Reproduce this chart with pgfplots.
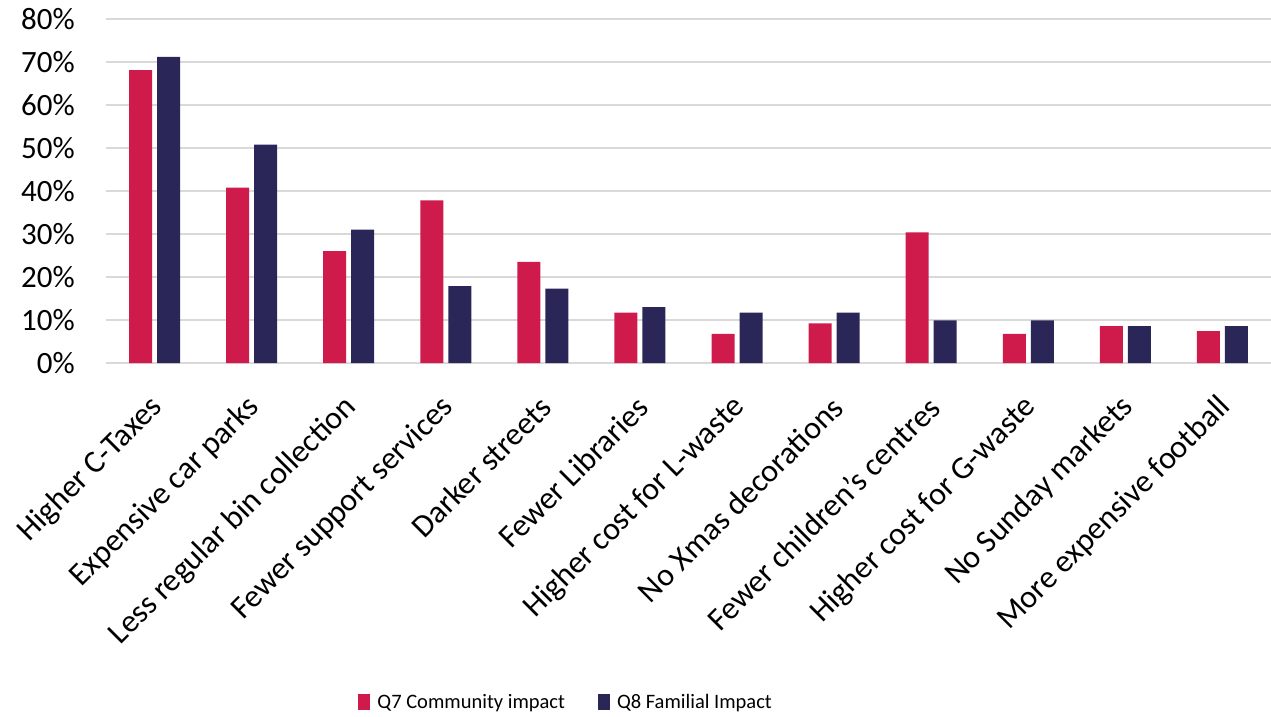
\documentclass[border=0pt]{standalone}
\usepackage{pgfplots}
\pgfplotsset{compat=1.18}
\usepackage{fontspec}
\setmainfont{Carlito}
\definecolor{q7}{HTML}{CE1B4B}
\definecolor{q8}{HTML}{2A2657}
\definecolor{gridgray}{HTML}{D9D9D9}

\begin{document}
\begin{tikzpicture}[x=1pt,y=1pt]

\begin{axis}[
    name=ax, at={(0,0)}, anchor=south west,
    scale only axis, width=1165pt, height=344pt,
    ybar=5pt, bar width=23pt,
    xmin=-0.5, xmax=11.5, ymin=0, ymax=80,
    xtick={0,...,11},
    xticklabels={Higher C-Taxes, Expensive car parks, Less regular bin collection,
        Fewer support services, Darker streets, Fewer Libraries,
        Higher cost for L-waste, No Xmas decorations, Fewer children's centres,
        Higher cost for G-waste, No Sunday markets, More expensive football},
    xticklabel style={rotate=45, anchor=east, inner sep=0pt, xshift=-25.5pt, yshift=-30pt,
        font=\fontsize{32}{36}\selectfont},
    ytick={0,10,...,80},
    yticklabel={\pgfmathparse{int(\tick)}\pgfmathresult\%},
    yticklabel style={anchor=east, inner sep=0pt, xshift=-31pt,
        font=\fontsize{31}{36}\selectfont},
    ymajorgrids, grid style={gridgray, line width=2pt},
    axis x line*=bottom, axis y line*=left,
    x axis line style={gridgray, line width=2pt, -},
    y axis line style={draw=none},
    major tick length=0pt,
    legend columns=2,
    legend style={at={(0.3950,-0.9855)}, anchor=center, draw=none, fill=none,
        font=\fontsize{20.5}{24}\selectfont, inner sep=0pt,
        /tikz/every odd column/.append style={column sep=5pt},
        /tikz/every even column/.append style={column sep=31pt}},
    legend image code/.code={\fill[#1] (0pt,-8pt) rectangle (12pt,8pt);},
]

% Q7 Community impact
\addplot[fill=q7, draw=none] coordinates {
    (0,68.1) (1,40.8) (2,26.0) (3,37.8) (4,23.5) (5,11.7)
    (6,6.8) (7,9.2) (8,30.4) (9,6.8) (10,8.6) (11,7.4)
};
% Q8 Familial Impact
\addplot[fill=q8, draw=none] coordinates {
    (0,71.2) (1,50.8) (2,31.0) (3,17.9) (4,17.3) (5,13.0)
    (6,11.7) (7,11.7) (8,9.9) (9,9.9) (10,8.6) (11,8.6)
};
\legend{Q7 Community impact, Q8 Familial Impact}

\end{axis}

\pgfresetboundingbox
\useasboundingbox (-106pt,-354pt) rectangle (1165pt,363pt);

\end{tikzpicture}
\end{document}
